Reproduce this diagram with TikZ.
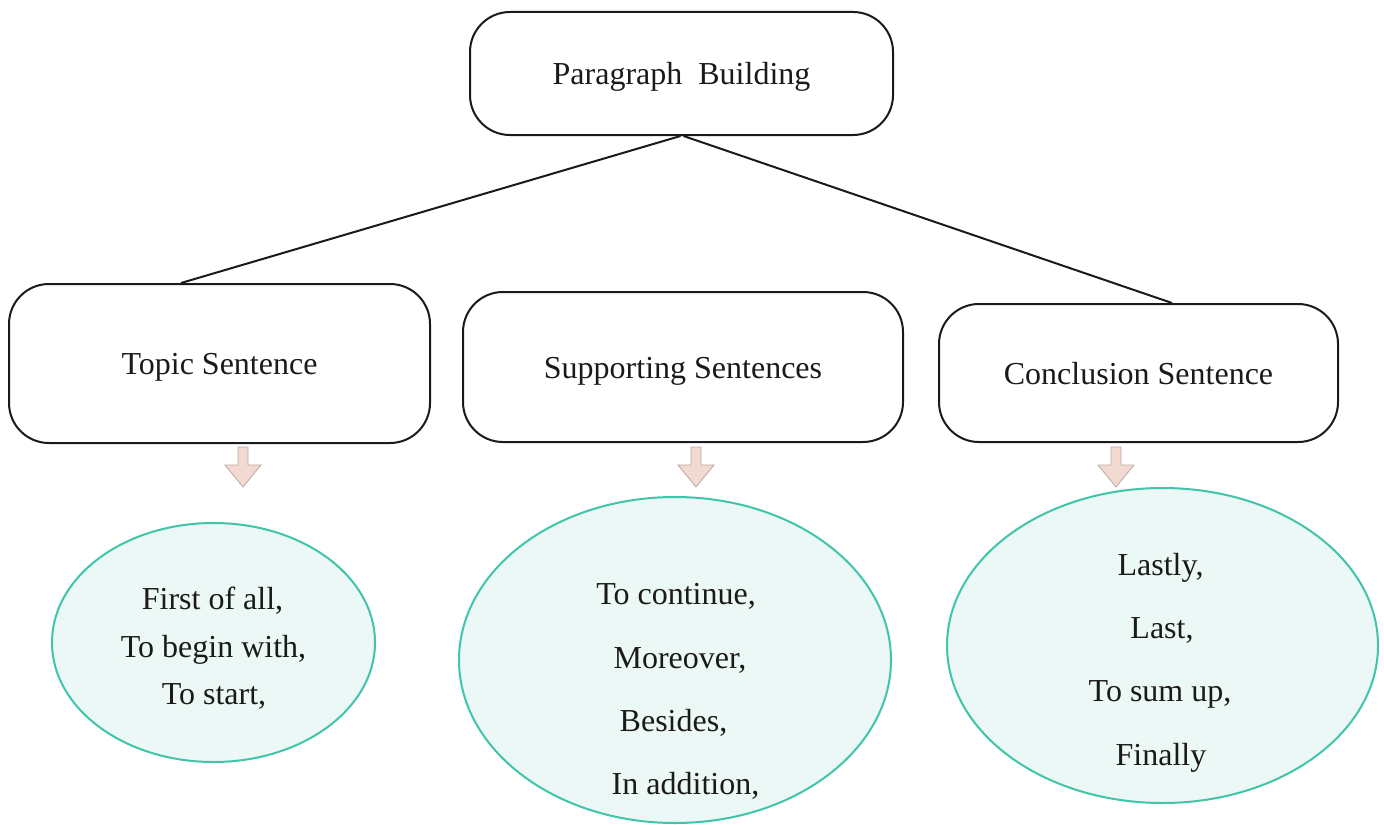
\documentclass[tikz,border=0pt]{standalone}
\usepackage{fontspec}
\setmainfont{Liberation Serif}
\usetikzlibrary{shapes.geometric}
\definecolor{tealline}{HTML}{40C4AA}
\definecolor{tealfill}{HTML}{EBF8F5}
\definecolor{arrfill}{HTML}{F3DAD0}
\definecolor{arrline}{HTML}{B8A9A4}
\definecolor{inkc}{HTML}{1A1A1A}
\tikzset{
  box/.style={draw=inkc, line width=1pt, rounded corners=20pt, rectangle, inner sep=0pt,
    text height=11.3pt, text depth=0pt,
    font=\fontsize{16}{19}\selectfont, text=inkc},
  oval/.style={draw=tealline, fill=tealfill, line width=1pt, ellipse, inner sep=0pt},
  word/.style={anchor=base, inner sep=0pt, font=\fontsize{16}{19}\selectfont, text=inkc},
  link/.style={draw=inkc, line width=1pt},
  blockarrow/.style={fill=arrfill, draw=arrline, line width=0.4pt, line join=miter}
}
\begin{document}
\begin{tikzpicture}[x=0.5pt,y=-0.5pt]
\useasboundingbox (0,0) rectangle (1384,824);
% boxes
\node[box, minimum width=211.5pt, minimum height=61.5pt] (top) at (681.5,73.5) {Paragraph\ \ Building};
\node[box, minimum width=210.5pt, minimum height=79.5pt] (topic) at (219.5,363.5) {Topic Sentence};
\node[box, minimum width=220pt, minimum height=75pt] (supp) at (683,367) {Supporting Sentences};
\node[box, minimum width=199.5pt, minimum height=69pt] (conc) at (1138.5,373) {Conclusion Sentence};
% connectors
\coordinate (tl) at ([xshift=-0.5pt]top.south);
\coordinate (tr) at ([xshift=1pt]top.south);
\draw[link] (tl) -- ([xshift=86.5pt]topic.north west);
\draw[link] (tr) -- ([xshift=117pt]conc.north west);
% ellipses
\node[oval, minimum width=161.5pt, minimum height=119.5pt] (e1) at (213.5,642.5) {};
\node[oval, minimum width=216pt, minimum height=163pt] (e2) at (675,660) {};
\node[oval, minimum width=215.5pt, minimum height=157.5pt] (e3) at (1162.5,645.5) {};
% block arrows
\foreach \cx in {243,696,1116}{
  \draw[blockarrow] (\cx-5,447) -- (\cx+5,447) -- (\cx+5,465) -- (\cx+18,465) -- (\cx,487)
     -- (\cx-18,465) -- (\cx-5,465) -- cycle;
}
% texts
\node[word] (t1) at (212.5,609) {First of all,};
\node[word] (t2) at (213.5,657) {To begin with,};
\node[word] (t3) at (214,704) {To start,};
\node[word] (s1) at (676,604) {To continue,};
\node[word] (s2) at (680,668) {Moreover,};
\node[word] (s3) at (673.5,731) {Besides,};
\node[word] (s4) at (685.5,794) {In addition,};
\node[word] (c1) at (1160.5,575) {Lastly,};
\node[word] (c2) at (1162,638) {Last,};
\node[word] (c3) at (1160,701) {To sum up,};
\node[word] (c4) at (1161,765) {Finally};
\end{tikzpicture}
\end{document}
